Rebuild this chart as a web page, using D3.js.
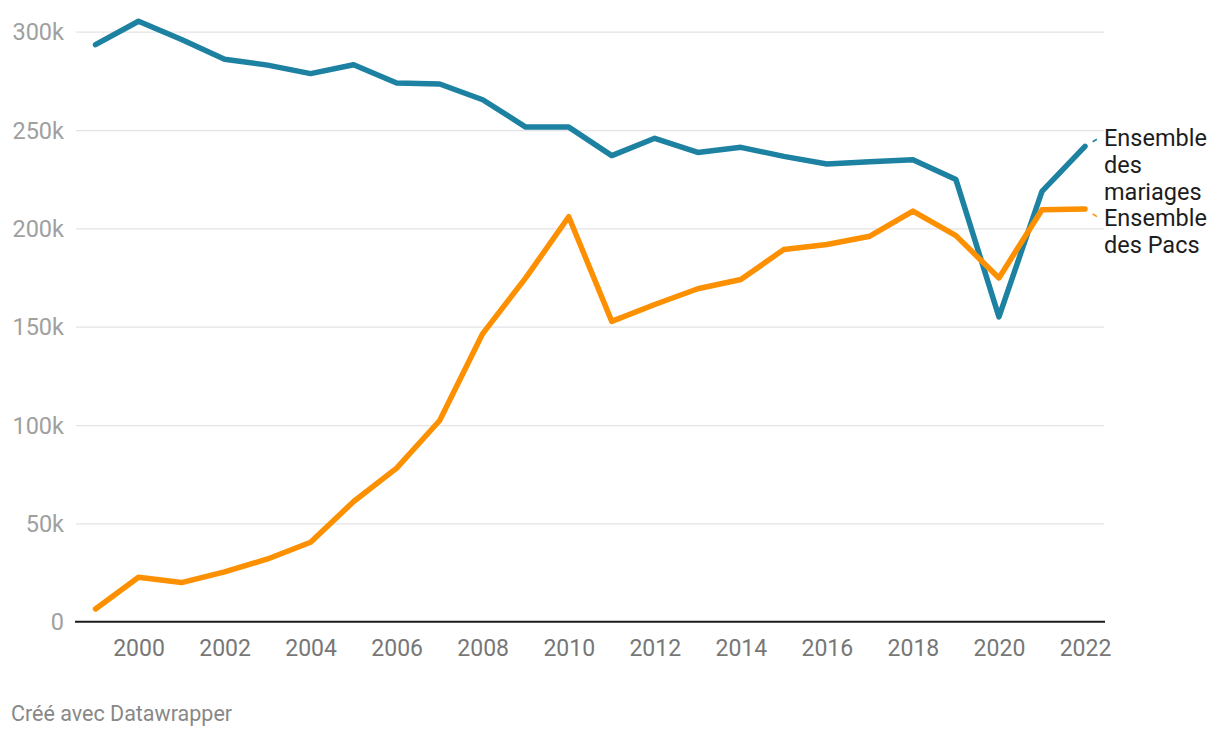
<!DOCTYPE html>
<html><head><meta charset="utf-8">
<script src="https://cdn.jsdelivr.net/npm/d3@7/dist/d3.min.js"></script>
<style>
body{margin:0;background:#fff;font-family:Roboto,"Noto Sans",sans-serif;}
svg text{font-family:Roboto,"Noto Sans",sans-serif;}
</style></head><body>
<svg id="c" width="1220" height="738"></svg>
<script>
const years = d3.range(1999, 2023);
const mariages = [293400,305300,296000,286000,283000,278700,283200,273900,273400,265400,251500,251500,237000,245800,238600,241200,236600,232700,233900,234900,224800,155000,218800,241700];
const pacs = [6500,22600,19900,25300,31900,40400,61100,78100,102300,146500,174800,205900,152700,161300,169300,174000,189300,191800,196000,208800,196300,174800,209500,209900];
const yTicks = [0,50000,100000,150000,200000,250000,300000];
const xTicks = [2000,2002,2004,2006,2008,2010,2012,2014,2016,2018,2020,2022];
const seriesNames = [["Ensemble","des","mariages"],["Ensemble","des Pacs"]];
const colors = ["#1d81a2","#fd9000"];

const svg = d3.select("#c");
const x = d3.scaleLinear().domain([1999,2022]).range([95.5,1085]);
const y = d3.scaleLinear().domain([0,300000]).range([621.7,31.7]);
const gx0 = 76, gx1 = 1104;

// y grid + labels
const yAxis = d3.axisLeft(y).tickValues(yTicks).tickSize(-(gx1-gx0)).tickPadding(12)
  .tickFormat(d => d===0 ? "0" : (d/1000)+"k");
const gy = svg.append("g").attr("transform",`translate(${gx0},0)`).call(yAxis);
gy.select(".domain").remove();
gy.selectAll(".tick line").attr("stroke","#e3e3e3").attr("stroke-width",1.3);
gy.selectAll(".tick text").attr("fill","#a0a0a0").attr("font-size",23.5).attr("x",-12).attr("dy","0.35em");
gy.selectAll(".tick").filter(d=>d===0).select("line").remove();

// baseline
svg.append("line").attr("x1",75).attr("x2",1105).attr("y1",y(0)).attr("y2",y(0))
  .attr("stroke","#1a1a1a").attr("stroke-width",2);

// x labels
const xAxis = d3.axisBottom(x).tickValues(xTicks).tickSize(0).tickPadding(18).tickFormat(d3.format("d"));
const gxa = svg.append("g").attr("transform",`translate(0,${y(0)})`).call(xAxis);
gxa.select(".domain").remove();
gxa.selectAll(".tick text").attr("fill","#777").attr("font-size",23);

const line = d3.line().x((d,i)=>x(years[i])).y(d=>y(d));
[mariages,pacs].forEach((s,k)=>{
  svg.append("path").datum(s).attr("d",line).attr("fill","none")
    .attr("stroke",colors[k]).attr("stroke-width",5.5)
    .attr("stroke-linejoin","round").attr("stroke-linecap","round");
});

// labels
const labelX = 1104;
const labelTops = [138, 218];
[mariages,pacs].forEach((s,k)=>{
  const t = svg.append("text").attr("x",labelX).attr("y",labelTops[k]).attr("fill","#1d1d1d").attr("font-size",23.5);
  seriesNames[k].forEach((w,i)=>{
    t.append("tspan").attr("x",labelX).attr("dy", i===0 ? "0.35em" : 27).text(w);
  });
  // connector dash
  const x0 = x(2022), y0 = y(s[s.length-1]);
  const x1 = labelX-5, y1 = labelTops[k];
  const f = 0.55;
  svg.append("line").attr("x1",x0+(x1-x0)*f).attr("y1",y0+(y1-y0)*f)
    .attr("x2",x0+(x1-x0)*0.85).attr("y2",y0+(y1-y0)*0.85)
    .attr("stroke",colors[k]).attr("stroke-width",1.5);
});

svg.append("text").attr("x",11).attr("y",721).attr("fill","#888").attr("font-size",21.5)
  .text("Créé avec Datawrapper");
</script></body></html>
